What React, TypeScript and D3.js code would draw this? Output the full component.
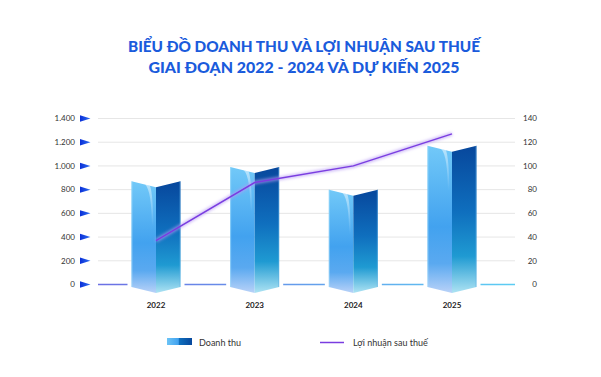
import React from "react";
import * as d3 from "d3";

const years = ["2022", "2023", "2024", "2025"];
const revenue = [870, 990, 800, 1170];
const profit = [37, 86, 100, 127];
const leftTicks = [0, 200, 400, 600, 800, 1000, 1200, 1400];
const rightTicks = [0, 20, 40, 60, 80, 100, 120, 140];
const titleLines = [
  "BIỂU ĐỒ DOANH THU VÀ LỢI NHUẬN SAU THUẾ",
  "GIAI ĐOẠN 2022 - 2024 VÀ DỰ KIẾN 2025",
];
const legendLabels = ["Doanh thu", "Lợi nhuận sau thuế"];

const W = 601;
const H = 377;
const gridX0 = 98;
const gridX1 = 515;
const font = "Lato, 'Noto Sans', sans-serif";

export default function App() {
  const yL = d3.scaleLinear().domain([0, 1400]).range([284.5, 118.5]);
  const yR = d3.scaleLinear().domain([0, 140]).range([284.5, 118.5]);
  const x = d3.scalePoint<string>().domain(years).range([156, 452]);
  const half = 24.5;
  const dip = 6;
  const base = yL(0);

  const line = d3
    .line<number>()
    .x((_, i) => x(years[i]) as number)
    .y((d) => yR(d));
  const linePath = line(profit) || "";

  const fmt = (v: number) => d3.format(",")(v).replace(/,/g, ".");

  return (
    <svg
      width={W}
      height={H}
      style={{ position: "absolute", left: 0, top: 0, background: "#fff" }}
      fontFamily={font}
    >
      <defs>
        <linearGradient id="leftFace" x1="0" y1="0" x2="0" y2="1">
          <stop offset="0%" stopColor="#72c9f8" />
          <stop offset="55%" stopColor="#42a2ef" />
          <stop offset="80%" stopColor="#5aa9f0" />
          <stop offset="100%" stopColor="#b9d2f8" />
        </linearGradient>
        <linearGradient id="rightFace" x1="0" y1="0" x2="0" y2="1">
          <stop offset="0%" stopColor="#07479c" />
          <stop offset="45%" stopColor="#0f6fbe" />
          <stop offset="75%" stopColor="#1f9ad2" />
          <stop offset="100%" stopColor="#aee3f3" />
        </linearGradient>
        <linearGradient id="hl" x1="0" y1="0" x2="0" y2="1">
          <stop offset="0%" stopColor="#ffffff" stopOpacity="0.5" />
          <stop offset="100%" stopColor="#ffffff" stopOpacity="0" />
        </linearGradient>
        <linearGradient id="zeroLine" gradientUnits="userSpaceOnUse" x1={gridX0} y1="0" x2={gridX1} y2="0">
          <stop offset="0%" stopColor="#6c70e4" />
          <stop offset="100%" stopColor="#5ccdf3" />
        </linearGradient>
        <linearGradient id="tri" x1="0" y1="0" x2="1" y2="0">
          <stop offset="0%" stopColor="#0a2fd8" />
          <stop offset="100%" stopColor="#2f6ff0" />
        </linearGradient>
        <linearGradient id="legendSwatch" x1="0" y1="0" x2="1" y2="0">
          <stop offset="0%" stopColor="#6cc4f6" />
          <stop offset="45%" stopColor="#42a2ef" />
          <stop offset="50%" stopColor="#0f6fbe" />
          <stop offset="100%" stopColor="#07479c" />
        </linearGradient>
        <filter id="glow" x="-10%" y="-50%" width="120%" height="200%">
          <feGaussianBlur stdDeviation="1.6" />
        </filter>
      </defs>

      {/* Title */}
      {titleLines.map((t, i) => (
        <text
          key={t}
          x={304}
          y={52 + i * 21}
          textAnchor="middle"
          fontSize={14.5}
          fontWeight={900}
          fill="#1a5bdc"
          textLength={i === 0 ? 352 : 311}
          lengthAdjust="spacingAndGlyphs"
        >
          {t}
        </text>
      ))}

      {/* Grid lines */}
      {leftTicks.slice(1).map((t) => (
        <line key={t} x1={gridX0} x2={gridX1} y1={yL(t)} y2={yL(t)} stroke="#e6e6e6" strokeWidth={1} />
      ))}
      <line x1={gridX0} x2={gridX1} y1={base} y2={base} stroke="url(#zeroLine)" strokeWidth={1.6} />

      {/* Left axis labels and markers */}
      {leftTicks.map((t) => (
        <g key={t}>
          <text x={75} y={yL(t)} dy="0.35em" textAnchor="end" fontSize={8} fill="#333">
            {fmt(t)}
          </text>
          <path
            d={`M80,${yL(t) - 3.2}L90.5,${yL(t)}L80,${yL(t) + 3.2}Z`}
            fill="url(#tri)"
          />
        </g>
      ))}

      {/* Right axis labels */}
      {rightTicks.map((t) => (
        <text key={t} x={537} y={yR(t)} dy="0.35em" textAnchor="end" fontSize={8} fill="#333">
          {t}
        </text>
      ))}

      {/* Bars */}
      {revenue.map((v, i) => {
        const cx = x(years[i]) as number;
        const yt = yL(v);
        const yb = base + 2.5;
        const l = cx - half;
        const r = cx + half;
        const leftD = `M${l},${yt}L${cx},${yt + dip}L${cx},${yb + dip}L${l},${yb}Z`;
        const rightD = `M${cx},${yt + dip}L${r},${yt}L${r},${yb}L${cx},${yb + dip}Z`;
        const hlD = `M${cx - 11},${yt + 3}C${cx - 6},${yt + 8} ${cx - 4.5},${yt + 22} ${cx - 4},${yt + 45}L${cx - 2.5},${yt + 45}C${cx - 3},${yt + 22} ${cx - 4},${yt + 10} ${cx - 6},${yt + 4.5}Z`;
        return (
          <g key={years[i]}>
            <rect x={l - 4} y={base - 4} width={half * 2 + 8} height={8} fill="#fff" />
            <path d={leftD} fill="url(#leftFace)" />
            <path d={rightD} fill="url(#rightFace)" />
            <path d={hlD} fill="url(#hl)" />
            <line x1={l + 0.5} x2={l + 0.5} y1={yt} y2={yb} stroke="#9ddcfb" strokeOpacity={0.6} strokeWidth={1} />
            <line x1={r - 0.5} x2={r - 0.5} y1={yt} y2={yb} stroke="#5fb0e8" strokeOpacity={0.5} strokeWidth={1} />
          </g>
        );
      })}

      {/* Profit line */}
      <path d={linePath} fill="none" stroke="#b79af5" strokeWidth={3.5} strokeOpacity={0.7} filter="url(#glow)" />
      <path d={linePath} fill="none" stroke="#7a3de0" strokeWidth={1.4} />

      {/* X labels */}
      {years.map((yr) => (
        <text
          key={yr}
          x={x(yr) as number}
          y={308}
          textAnchor="middle"
          fontSize={8}
          fontWeight={700}
          fill="#222"
        >
          {yr}
        </text>
      ))}

      {/* Legend */}
      <rect x={167} y={338} width={25} height={7} fill="url(#legendSwatch)" />
      <text x={199} y={345.5} fontSize={9} fill="#333">
        {legendLabels[0]}
      </text>
      <line x1={320} x2={344} y1={342.5} y2={342.5} stroke="#7a3de0" strokeWidth={1.5} />
      <text x={353} y={345.5} fontSize={9} fill="#333">
        {legendLabels[1]}
      </text>
    </svg>
  );
}
